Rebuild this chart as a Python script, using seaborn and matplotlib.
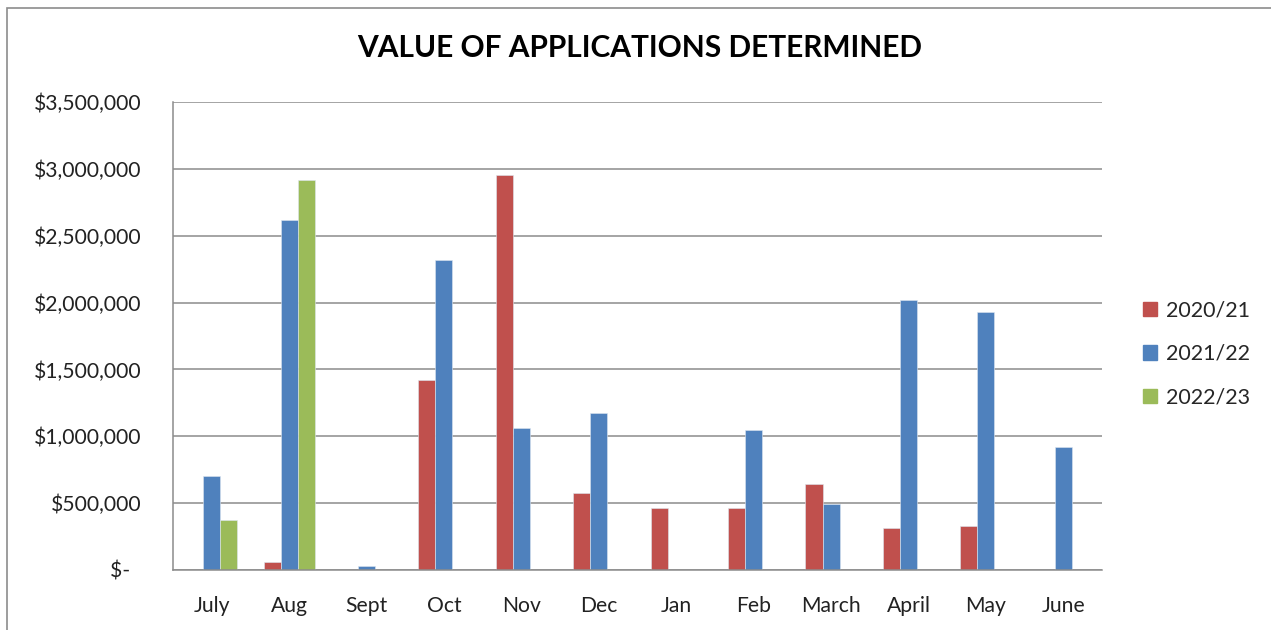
import pandas as pd
import matplotlib.pyplot as plt
import matplotlib.patches as mpatches
import seaborn as sns

# Dados do gráfico
meses = ["July", "Aug", "Sept", "Oct", "Nov", "Dec", "Jan", "Feb", "March", "April", "May", "June"]
anos = ["2020/21", "2021/22", "2022/23"]
valores_2020_21 = [0, 62500, 0, 1420000, 2957500, 575000, 462500, 462500, 645000, 317500, 332500, 0]
valores_2021_22 = [705000, 2617500, 32500, 2317500, 1060000, 1175000, 0, 1045000, 495000, 2017500, 1932500, 917500]
valores_2022_23 = [375000, 2920000, 0, 0, 0, 0, 0, 0, 0, 0, 0, 0]
cores = ["#C0504D", "#4F81BD", "#9BBB59"]
yticks = [0, 500000, 1000000, 1500000, 2000000, 2500000, 3000000, 3500000]
ytick_labels = ["$-  ", "$500,000", "$1,000,000", "$1,500,000", "$2,000,000",
                "$2,500,000", "$3,000,000", "$3,500,000"]

# Monta o dataframe no formato longo
df = pd.DataFrame({
    "mes": meses * 3,
    "ano": [anos[0]] * 12 + [anos[1]] * 12 + [anos[2]] * 12,
    "valor": valores_2020_21 + valores_2021_22 + valores_2022_23,
})

sns.set_style("white")
plt.rcParams["font.family"] = ["Lato", "DejaVu Sans"]

fig = plt.figure(figsize = (12.71, 6.30), dpi = 100)
ax = fig.add_axes([173 / 1271, 1 - 570 / 630, 929 / 1271, 468 / 630])

sns.barplot(data = df, x = "mes", y = "valor", hue = "ano", order = meses,
            hue_order = anos, palette = cores, saturation = 1, width = 0.66, ax = ax,
            edgecolor = "#dde6f0", linewidth = 0.4, legend = False)

ax.set_ylim(0, 3500000)
ax.set_xlim(-0.5, 11.5)
ax.set_yticks(yticks)
ax.set_yticklabels(ytick_labels)
ax.yaxis.grid(True, color = "#8c8c8c", linewidth = 1.1)
ax.set_axisbelow(True)
ax.set_xlabel("")
ax.set_ylabel("")
for lado in ["top", "right"]:
    ax.spines[lado].set_visible(False)
for lado in ["left", "bottom"]:
    ax.spines[lado].set_color("#8c8c8c")
    ax.spines[lado].set_linewidth(1.1)
ax.tick_params(axis = "y", length = 4, color = "#8c8c8c", pad = 19, labelsize = 15.2, labelcolor = "#222222")
ax.tick_params(axis = "x", length = 0, pad = 19, labelsize = 15.2, labelcolor = "#222222")

# Título
fig.text(640 / 1271, 1 - 48 / 630, "VALUE OF APPLICATIONS DETERMINED", ha = "center",
         va = "center", fontsize = 21.5, fontweight = "bold", color = "black")

# Legenda
handles = [mpatches.Patch(color = c, label = a) for c, a in zip(cores, anos)]
fig.legend(handles = handles, loc = "center left", bbox_to_anchor = (1124 / 1271, 1 - 354 / 630),
           frameon = False, fontsize = 15.5, handlelength = 0.65, handleheight = 0.65,
           handletextpad = 0.4, labelspacing = 1.1)

# Borda do gráfico
fig.patches.append(mpatches.Rectangle((7 / 1271, -0.1), 1.2, 1 - 8 / 630 + 0.1,
                                      transform = fig.transFigure, fill = False,
                                      edgecolor = "#8c8c8c", linewidth = 1.2))

plt.savefig("out.png", dpi = 100)
